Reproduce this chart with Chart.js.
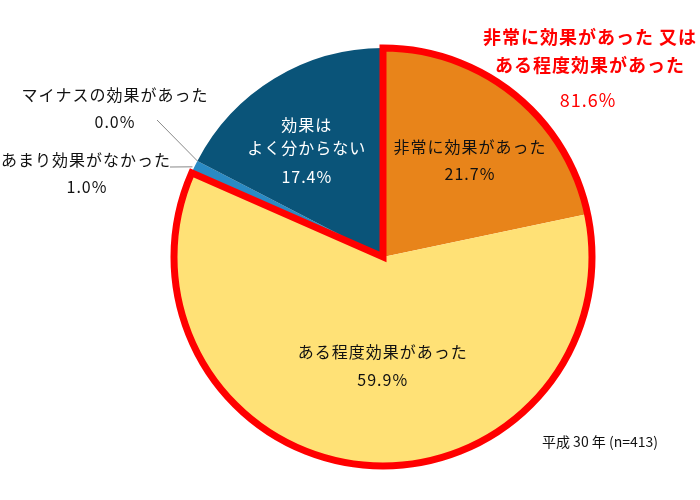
<!DOCTYPE html>
<html>
<head>
<meta charset="utf-8">
<script src="https://cdn.jsdelivr.net/npm/chart.js@4/dist/chart.umd.min.js"></script>
<style>
  html, body { margin: 0; padding: 0; background: #fff; }
  #wrap { width: 700px; height: 500px; position: relative; }
</style>
</head>
<body>
<div id="wrap"><canvas id="pie"></canvas></div>
<script>
// data
const categories = ['非常に効果があった', 'ある程度効果があった', 'あまり効果がなかった', 'マイナスの効果があった', '効果はよく分からない'];
const shares = [21.7, 59.9, 1.0, 0.0, 17.4];
const sliceColors = ['#E8841A', '#FFE176', '#2A8AC4', '#2A8AC4', '#0A5479'];
const combinedLabel = ['非常に効果があった 又は', 'ある程度効果があった'];
const combinedShare = 81.6;
const note = '平成 30 年 (n=413)';

const FONT = '"Noto Sans CJK JP", "Noto Sans", sans-serif';

// red outline around the first two slices
const outlinePlugin = {
    id: 'outline',
    afterDatasetsDraw(chart) {
        const arcs = chart.getDatasetMeta(0).data;
        const a = arcs[0], b = arcs[1];
        const ctx = chart.ctx;
        ctx.save();
        ctx.beginPath();
        ctx.moveTo(a.x, a.y);
        ctx.arc(a.x, a.y, a.outerRadius, a.startAngle, b.endAngle);
        ctx.closePath();
        ctx.lineWidth = 7;
        ctx.lineJoin = 'miter';
        ctx.strokeStyle = '#FF0000';
        ctx.stroke();
        ctx.restore();
    }
};

// slice labels, leader lines and notes
const labelPlugin = {
    id: 'labels',
    afterDraw(chart) {
        const arcs = chart.getDatasetMeta(0).data;
        const ctx = chart.ctx;
        ctx.save();
        ctx.textAlign = 'center';
        ctx.textBaseline = 'middle';
        ctx.font = '16px ' + FONT;
        ctx.letterSpacing = '1px';

        function at(arc, frac) {
            const mid = (arc.startAngle + arc.endAngle) / 2;
            return { x: arc.x + Math.cos(mid) * arc.outerRadius * frac, y: arc.y + Math.sin(mid) * arc.outerRadius * frac };
        }
        function pct(v) { return v.toFixed(1) + '%'; }

        // inside labels
        let p = at(arcs[0], 0.6);
        ctx.fillStyle = '#111';
        ctx.fillText(categories[0], p.x + 8, p.y - 13);
        ctx.fillText(pct(shares[0]), p.x + 8, p.y + 14);

        p = at(arcs[1], 0.52);
        ctx.fillText(categories[1], p.x + 11, p.y - 13);
        ctx.fillText(pct(shares[1]), p.x + 11, p.y + 15);

        p = at(arcs[4], 0.6);
        ctx.fillStyle = '#fff';
        ctx.fillText('効果は', p.x - 11, p.y - 25);
        ctx.fillText('よく分からない', p.x - 11, p.y - 2);
        ctx.fillText(pct(shares[4]), p.x - 11, p.y + 27);

        // outside labels with leader lines
        ctx.strokeStyle = '#888';
        ctx.lineWidth = 1;
        const e3 = at(arcs[3], 1.0);
        ctx.beginPath();
        ctx.moveTo(e3.x, e3.y);
        ctx.lineTo(157, 120);
        ctx.stroke();
        const e2 = at(arcs[2], 1.0);
        ctx.beginPath();
        ctx.moveTo(e2.x - 2, e2.y);
        ctx.lineTo(170, 167);
        ctx.stroke();

        ctx.fillStyle = '#111';
        ctx.fillText(categories[3], 115, 95);
        ctx.fillText(pct(shares[3]), 115, 122);
        ctx.fillText(categories[2], 86, 160);
        ctx.fillText(pct(shares[2]), 87, 187);

        // combined label
        ctx.fillStyle = '#FF0000';
        ctx.font = 'bold 18px ' + FONT;
        ctx.fillText(combinedLabel[0], 590, 37);
        ctx.fillText(combinedLabel[1], 590, 65);
        ctx.font = '18px ' + FONT;
        ctx.fillText(pct(combinedShare), 588, 100);

        // note
        ctx.fillStyle = '#111';
        ctx.letterSpacing = '0px';
        ctx.font = '14px ' + FONT;
        ctx.fillText(note, 600, 442);
        ctx.restore();
    }
};

new Chart(document.getElementById('pie'), {
    type: 'pie',
    data: {
        labels: categories,
        datasets: [{
            data: shares,
            backgroundColor: sliceColors,
            borderWidth: 0
        }]
    },
    options: {
        responsive: true,
        maintainAspectRatio: false,
        animation: false,
        layout: { padding: { left: 174, right: 108, top: 48, bottom: 34 } },
        plugins: {
            legend: { display: false },
            tooltip: { enabled: false }
        }
    },
    plugins: [outlinePlugin, labelPlugin]
});
</script>
</body>
</html>
